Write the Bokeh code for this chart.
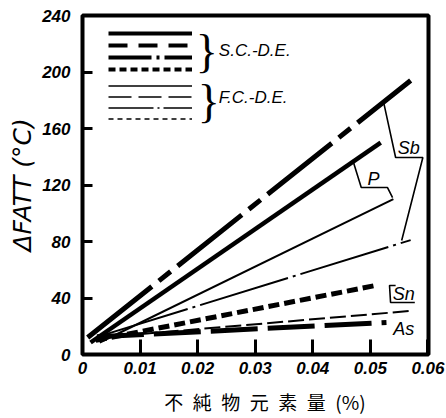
from bokeh.plotting import figure
from bokeh.models import Range1d, FixedTicker, Label, Legend, LegendItem
from bokeh.embed import file_html
from bokeh.resources import INLINE

# ---- data (impurity content %, delta FATT degC) ----
sb_sc_x = [0.0009, 0.0570]
sb_sc_y = [12, 194]
p_sc_x = [0.0014, 0.0518]
p_sc_y = [8.5, 150]
sn_sc_x = [0.0023, 0.0511]
sn_sc_y = [10, 49]
as_sc_x = [0.0025, 0.0528]
as_sc_y = [12.5, 22.7]
sb_fc_x = [0.0030, 0.0570]
sb_fc_y = [13, 81]
p_fc_x = [0.0030, 0.0540]
p_fc_y = [8.5, 110]
sn_fc_x = [0.0030, 0.0574]
sn_fc_y = [12, 31]

# leader / bracket strokes of the element labels
sb_leader_x = [0.05228, 0.05439, 0.05912, 0.05544]
sb_leader_y = [179, 139.5, 139.5, 80.7]
p_leader_x = [0.04702, 0.04842, 0.05298, 0.05386]
p_leader_y = [136.6, 118.2, 118.2, 111]
sn_leader_x = [0.05439, 0.05333, 0.05351, 0.05772]
sn_leader_y = [48.8, 48.8, 36.8, 36.8]

x_ticks = [0, 0.01, 0.02, 0.03, 0.04, 0.05, 0.06]
x_tick_labels = ["0", "0.01", "0.02", "0.03", "0.04", "0.05", "0.06"]
y_ticks = [0, 40, 80, 120, 160, 200, 240]

FONT = "Liberation Sans"

p = figure(width=446, height=418, x_range=Range1d(0, 0.0601), y_range=Range1d(0, 240),
           output_backend="svg", toolbar_location=None,
           min_border_left=82, min_border_right=18, min_border_top=15, min_border_bottom=64)
p.grid.visible = False
p.outline_line_color = "black"
p.outline_line_width = 4
p.background_fill_color = "white"
p.border_fill_color = "white"
p.extra_y_ranges = {"offscreen": Range1d(1000, 2000)}

xa = p.xaxis[0]
xa.ticker = FixedTicker(ticks=x_ticks, minor_ticks=[])
xa.major_label_overrides = {t: s for t, s in zip(x_ticks, x_tick_labels)}
xa.major_tick_in = 15
xa.major_tick_out = 0
xa.major_tick_line_width = 3
xa.major_tick_line_color = "black"
xa.minor_tick_line_color = None
xa.axis_line_color = None
xa.major_label_standoff = 7
xa.major_label_text_font = FONT
xa.major_label_text_font_size = "17px"
xa.major_label_text_font_style = "bold italic"
xa.major_label_text_color = "black"
xa.axis_label = "\u2002\u2002不\u2002純\u2002物\u2002元\u2002素\u2002量\u2002(%)"
xa.axis_label_text_font = "Noto Sans CJK JP"
xa.axis_label_text_font_size = "19px"
xa.axis_label_text_font_style = "normal"
xa.axis_label_text_color = "black"
xa.axis_label_standoff = 11

ya = p.yaxis[0]
ya.ticker = FixedTicker(ticks=y_ticks, minor_ticks=[])
ya.major_tick_in = 10
ya.major_tick_out = 0
ya.major_tick_line_width = 3
ya.major_tick_line_color = "black"
ya.minor_tick_line_color = None
ya.axis_line_color = None
ya.major_label_standoff = 12
ya.major_label_text_font = FONT
ya.major_label_text_font_size = "17px"
ya.major_label_text_font_style = "bold italic"
ya.major_label_text_color = "black"
ya.axis_label = "ΔFATT (°C)"
ya.axis_label_text_font = "DejaVu Sans"
ya.axis_label_text_font_size = "25px"
ya.axis_label_text_font_style = "italic"
ya.axis_label_text_color = "black"
ya.axis_label_standoff = 2

# ---- data lines ----
p.line(sb_sc_x, sb_sc_y, line_width=5, color="black", line_dash="82 9 15 9")
p.line(p_sc_x, p_sc_y, line_width=4.5, color="black")
p.line(sn_sc_x, sn_sc_y, line_width=5, color="black", line_dash="11 5")
p.line(as_sc_x, as_sc_y, line_width=5, color="black", line_dash="47 10")
p.line(sb_fc_x, sb_fc_y, line_width=2, color="black", line_dash="92 5 3 5")
p.line(p_fc_x, p_fc_y, line_width=2, color="black")
p.line(sn_fc_x, sn_fc_y, line_width=2, color="black", line_dash="16 5")

# leaders
for lx, ly in ((sb_leader_x, sb_leader_y), (p_leader_x, p_leader_y), (sn_leader_x, sn_leader_y)):
    p.line(lx, ly, line_width=1.6, color="black")

# element labels
for txt, x, y in (("Sb", 0.05667, 146.5), ("P", 0.05053, 124.6), ("Sn", 0.05579, 42.5), ("As", 0.05579, 18.4)):
    p.add_layout(Label(x=x, y=y, text=txt, text_align="center", text_baseline="middle",
                       text_font=FONT, text_font_size="18px", text_font_style="italic",
                       text_color="black"))

# ---- legend key samples (drawn only in the legend; plotted on an off-screen range) ----
def sample(xs, ys, width, dash="solid"):
    return p.line(xs, ys, line_width=width, color="black", line_dash=dash,
                  y_range_name="offscreen")

sc_samples = [sample(p_sc_x, p_sc_y, 4), sample(as_sc_x, as_sc_y, 4, "19 11"),
              sample(sb_sc_x, sb_sc_y, 4, "43 5 3 5"), sample(sn_sc_x, sn_sc_y, 4, "7 4")]
fc_samples = [sample(p_fc_x, p_fc_y, 1.5), sample(as_sc_x, as_sc_y, 1.5, "23 7"),
              sample(sb_fc_x, sb_fc_y, 1.5, "45 4 2 4"), sample(sn_fc_x, sn_fc_y, 1.5, "5 4")]

def make_legend(rends, loc, gh):
    return Legend(items=[LegendItem(label=" ", renderers=[r]) for r in rends],
                  location=loc, glyph_width=84, glyph_height=gh, label_height=gh,
                  label_width=0, label_standoff=0, spacing=2, padding=0, margin=0,
                  border_line_color=None, background_fill_alpha=0,
                  label_text_font_size="8px")

p.add_layout(make_legend(sc_samples, (26, 280), 10))
p.add_layout(make_legend(fc_samples, (26, 231), 9))

for txt, y in (("S.C.-D.E.", 215.2), ("F.C.-D.E.", 181.9)):
    p.add_layout(Label(x=0.02368, y=y, text=txt, text_align="left", text_baseline="middle",
                       text_font=FONT, text_font_size="17px", text_font_style="italic",
                       text_color="black"))
for x, y in ((0.02158, 214.5), (0.02193, 179.1)):
    p.add_layout(Label(x=x, y=y, text="}", text_align="center", text_baseline="middle",
                       text_font="Liberation Serif", text_font_size="46px", text_color="black"))

open("out.html", "w").write(file_html(p, INLINE))
